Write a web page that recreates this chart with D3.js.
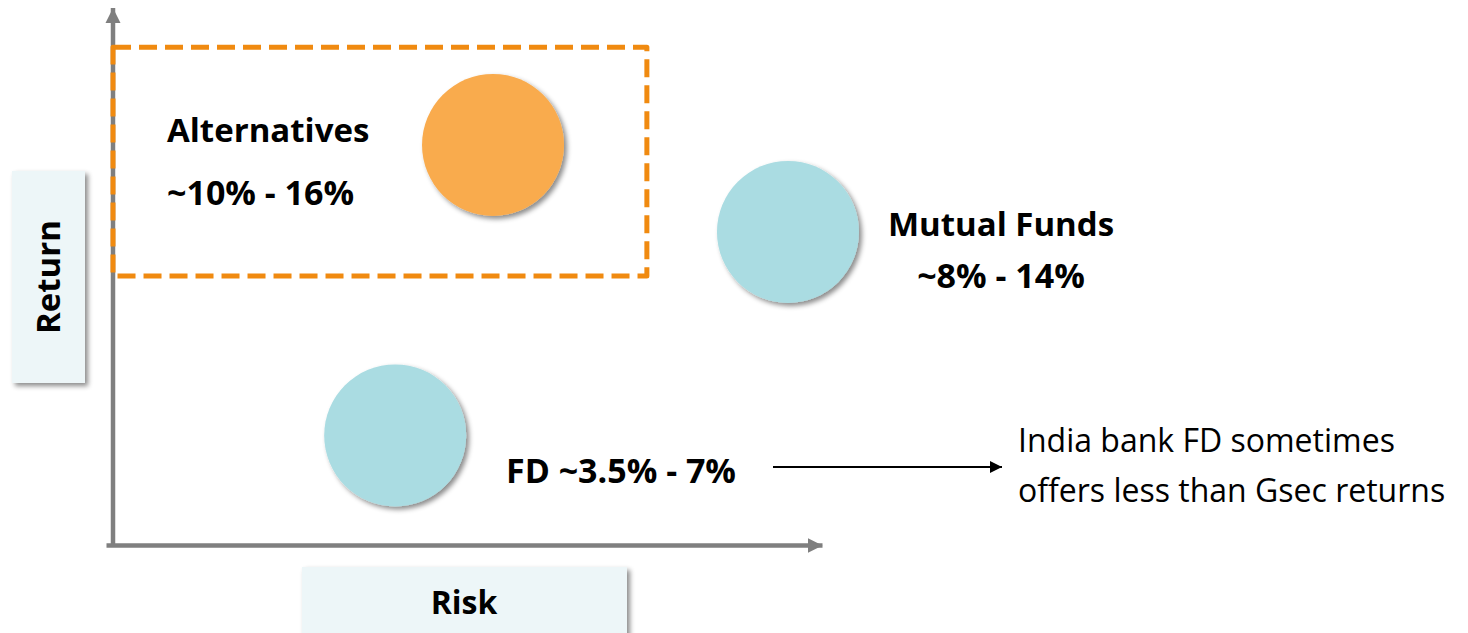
<!DOCTYPE html>
<html>
<head>
<meta charset="utf-8">
<script src="https://cdn.jsdelivr.net/npm/d3@7"></script>
<style>
  body { margin: 0; background: #fff; }
  svg { display: block; font-family: "Open Sans", Lato, sans-serif; }
  .lbl { font-weight: bold; fill: #000; }
</style>
</head>
<body>
<svg id="chart" width="1468" height="633"></svg>
<script>
// asset classes, plotted on a 0-100 risk / return grid
var names   = ['Alternatives', 'Mutual Funds', 'FD'];
var risk    = [53.6, 95.2, 39.8];
var ret     = [74.5, 58.3, 20.4];
var ranges  = ['~10% - 16%', '~8% - 14%', '~3.5% - 7%'];
var colors  = ['#F9AB4E', '#AADCE2', '#AADCE2'];
var note    = ['India bank FD sometimes', 'offers less than Gsec returns'];

var svg = d3.select('#chart');

var x = d3.scaleLinear().domain([0, 100]).range([113, 822]);
var y = d3.scaleLinear().domain([0, 100]).range([545, 8]);

var defs = svg.append('defs');
var sh = defs.append('filter').attr('id', 'shadow')
  .attr('x', '-20%').attr('y', '-20%').attr('width', '150%').attr('height', '150%');
sh.append('feDropShadow').attr('dx', 3).attr('dy', 3).attr('stdDeviation', 2.5)
  .attr('flood-color', '#000').attr('flood-opacity', 0.45);

function arrowMarker(id, color, w, h) {
  defs.append('marker').attr('id', id)
    .attr('viewBox', '0 0 10 10').attr('refX', 10).attr('refY', 5)
    .attr('markerUnits', 'userSpaceOnUse')
    .attr('markerWidth', w).attr('markerHeight', h)
    .attr('orient', 'auto')
    .append('path').attr('d', 'M0,0L10,5L0,10Z').attr('fill', color);
}
arrowMarker('axisArrow', '#7F7F7F', 15, 16);
arrowMarker('noteArrow', '#000', 14, 12);

// axis title boxes
svg.append('rect').attr('x', 12).attr('y', 171).attr('width', 73).attr('height', 212)
  .attr('fill', '#EDF6F8').attr('filter', 'url(#shadow)');
svg.append('text').attr('class', 'lbl')
  .attr('transform', 'translate(60,277) rotate(-90)')
  .attr('text-anchor', 'middle').style('font-size', '33px').text('Return');

svg.append('rect').attr('x', 302).attr('y', 567).attr('width', 325).attr('height', 80)
  .attr('fill', '#EDF6F8').attr('filter', 'url(#shadow)');
svg.append('text').attr('class', 'lbl')
  .attr('x', 464).attr('y', 614)
  .attr('text-anchor', 'middle').style('font-size', '32px').text('Risk');

// axes, no ticks, just arrows
var yAxis = svg.append('g').attr('transform', 'translate(' + x(0) + ',0)')
  .call(d3.axisLeft(y.copy().range([y(0) + 2, y(100)])).ticks(0).tickSizeOuter(0));
var xAxis = svg.append('g').attr('transform', 'translate(0,' + y(0) + ')')
  .call(d3.axisBottom(x.copy().range([x(0) - 7, x(100)])).ticks(0).tickSizeOuter(0));
[yAxis, xAxis].forEach(function(a) {
  a.select('.domain').attr('stroke', '#7F7F7F').attr('stroke-width', 4.5)
    .attr('marker-end', 'url(#axisArrow)');
});
// axisLeft draws bottom->top reversed; make the arrow sit on the top end
yAxis.select('.domain').attr('d', 'M0,' + (y(0) + 2) + 'V' + y(100));

// highlight around alternatives
svg.append('path')
  .attr('d', 'M' + x(0) + ',' + y(92.7) + 'H' + x(75.3) + 'V' + y(50.1) + 'H' + x(0) + 'Z')
  .attr('fill', 'none').attr('stroke', '#F08A10').attr('stroke-width', 5)
  .attr('stroke-dasharray', '18,8').attr('stroke-linejoin', 'round');

// bubbles
svg.selectAll('circle.b').data(names).enter().append('circle')
  .attr('class', 'b')
  .attr('cx', function(d, i) { return x(risk[i]); })
  .attr('cy', function(d, i) { return y(ret[i]); })
  .attr('r', 71)
  .attr('fill', function(d, i) { return colors[i]; })
  .attr('filter', 'url(#shadow)');

// labels
var nf = '33px', rf = '34px';
svg.append('text').attr('class', 'lbl').attr('x', 167).attr('y', 142).style('font-size', nf).text(names[0]);
svg.append('text').attr('class', 'lbl').attr('x', 167).attr('y', 205).style('font-size', rf).text(ranges[0]);
svg.append('text').attr('class', 'lbl').attr('x', 1001).attr('y', 236).attr('text-anchor', 'middle').style('font-size', nf).text(names[1]);
svg.append('text').attr('class', 'lbl').attr('x', 1001).attr('y', 288).attr('text-anchor', 'middle').style('font-size', rf).text(ranges[1]);
svg.append('text').attr('class', 'lbl').attr('x', 506).attr('y', 483).style('font-size', rf).text(names[2] + ' ' + ranges[2]);

// note arrow
svg.append('line').attr('x1', 773).attr('x2', 1002).attr('y1', 467).attr('y2', 467)
  .attr('stroke', '#000').attr('stroke-width', 2).attr('marker-end', 'url(#noteArrow)');
svg.selectAll('text.note').data(note).enter().append('text')
  .attr('class', 'note').attr('x', 1018)
  .attr('y', function(d, i) { return 452 + i * 50; })
  .style('font-size', '32px').attr('fill', '#000')
  .text(function(d) { return d; });
</script>
</body>
</html>
